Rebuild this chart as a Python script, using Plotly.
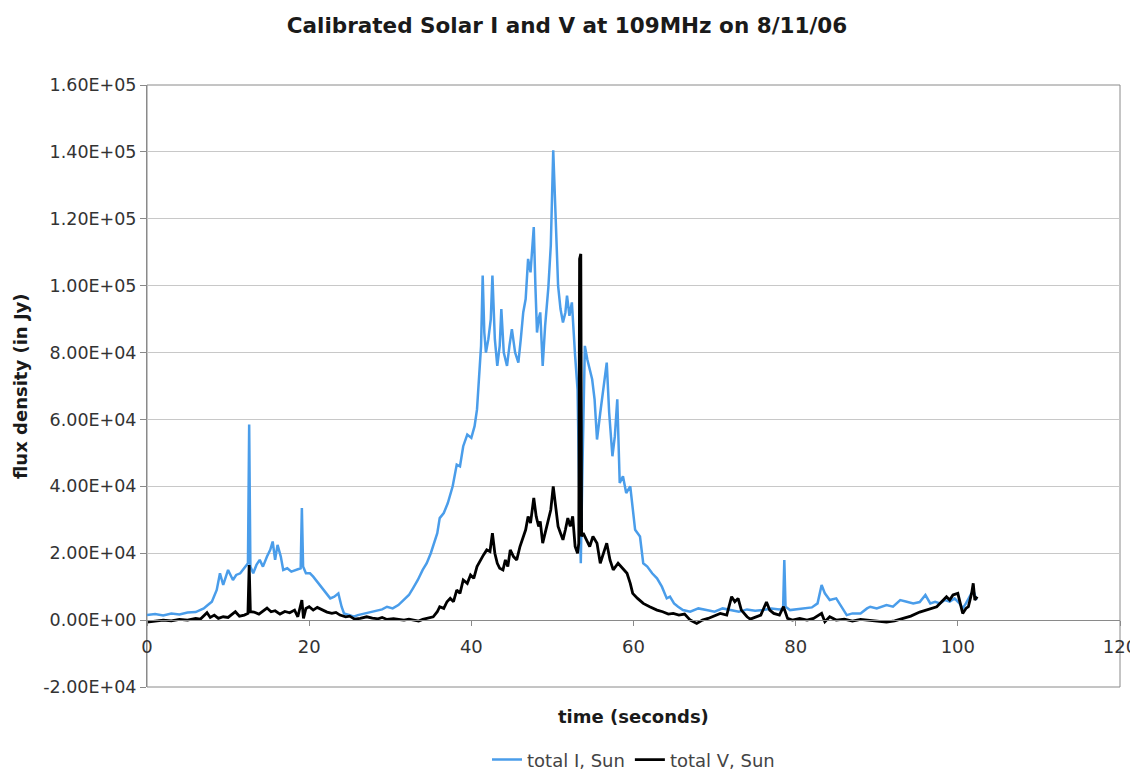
import plotly.graph_objects as go

# ---- data ----
t_I = [0.0, 1.0, 2.0, 3.0, 4.0, 5.0, 6.0, 7.0, 7.5, 8.0,
       8.6, 9.0, 9.4, 10.0, 10.6, 11.0, 11.5, 12.0, 12.45, 12.6,
       12.75, 13.1, 13.5, 13.9, 14.3, 14.8, 15.2, 15.5, 15.8, 16.1,
       16.5, 16.8, 17.3, 17.8, 18.5, 18.95, 19.1, 19.25, 19.6, 20.1,
       20.5, 21.0, 21.3, 21.8, 22.3, 22.6, 23.1, 23.6, 24.0, 24.3,
       25.0, 25.5, 26.0, 27.0, 28.0, 29.0, 29.6, 30.3, 31.0, 31.6,
       32.3, 32.8, 33.4, 34.0, 34.5, 35.0, 35.3, 35.8, 36.1, 36.6,
       37.1, 37.7, 38.2, 38.6, 39.0, 39.5, 40.0, 40.4, 40.7, 41.0,
       41.2, 41.4, 41.6, 41.8, 42.1, 42.4, 42.6, 42.9, 43.2, 43.5,
       43.7, 44.0, 44.4, 44.7, 45.0, 45.4, 45.8, 46.1, 46.4, 46.7,
       47.0, 47.3, 47.7, 47.9, 48.1, 48.3, 48.5, 48.8, 49.1, 49.5,
       49.8, 50.1, 50.4, 50.7, 51.0, 51.3, 51.6, 51.8, 52.1, 52.4,
       52.8, 53.1, 53.3, 53.5, 53.7, 54.0, 54.3, 54.6, 54.9, 55.2,
       55.5, 55.9, 56.3, 56.7, 57.0, 57.4, 57.7, 58.0, 58.3, 58.7,
       59.1, 59.6, 60.2, 60.8, 61.2, 61.7, 62.3, 62.9, 63.5, 64.1,
       64.5, 65.0, 65.5, 66.1, 67.0, 68.0, 69.0, 70.0, 71.0, 72.0,
       73.0, 74.0, 75.0, 76.0, 77.0, 78.0, 78.45, 78.6, 78.75, 79.3,
       80.0, 81.0, 82.0, 82.7, 83.2, 83.6, 84.2, 85.0, 85.5, 86.3,
       87.0, 88.0, 88.8, 89.2, 90.0, 91.2, 92.0, 92.9, 93.7, 94.5,
       95.3, 96.0, 96.6, 97.2, 97.8, 98.4, 99.0, 99.6, 100.2, 100.6,
       101.0, 101.4, 101.9, 102.3]

total_I = [1500, 1800, 1400, 2000, 1700, 2300, 2400, 3500, 4500, 5500,
           9000, 14000, 10500, 15000, 12000, 13500, 14000, 15500, 17000, 58500,
           16000, 14000, 16500, 18000, 16000, 19000, 21000, 23500, 18000, 22500,
           19000, 15000, 15500, 14500, 15000, 15500, 33500, 16000, 14000, 14000,
           13000, 11500, 10500, 9000, 7500, 6500, 7000, 8000, 4000, 2000,
           1500, 1000, 1500, 2000, 2500, 3200, 4000, 3500, 4500, 6000,
           7500, 9500, 12000, 15000, 17000, 20000, 22000, 26000, 30500, 32000,
           35000, 40000, 46500, 46000, 52000, 55500, 54500, 58000, 63000, 75000,
           82000, 103000, 86000, 80000, 84000, 90000, 103000, 84000, 76000, 82000,
           93000, 80000, 76000, 82000, 87000, 80000, 77000, 84000, 92000, 96000,
           108000, 104000, 117500, 100000, 86000, 90000, 92000, 76000, 88000, 99500,
           112000, 140500, 118000, 100000, 93000, 89000, 92000, 97000, 91000, 95000,
           79000, 69000, 40000, 17000, 45000, 82000, 78000, 75000, 72000, 66000,
           54000, 62000, 70000, 77000, 62000, 49000, 55000, 66000, 41000, 43000,
           38000, 40000, 27000, 25000, 17000, 16000, 14000, 12500, 10000, 6500,
           7000, 5000, 4000, 3000, 2500, 3500, 3000, 2500, 3500, 3000,
           2500, 3200, 2800, 3000, 3500, 3200, 3500, 18000, 4000, 3000,
           3200, 3500, 3800, 5000, 10500, 8000, 6000, 6500, 4500, 1500,
           2000, 2000, 3500, 4000, 3500, 4500, 4000, 6000, 5500, 5000,
           5400, 7500, 5000, 5500, 5000, 6000, 5500, 6500, 5000, 3500,
           5000, 7000, 9000, 6000]

t_V = [0.0, 1.0, 2.0, 3.0, 4.0, 5.0, 6.0, 6.6, 7.0, 7.4,
       7.8, 8.3, 8.8, 9.4, 10.0, 10.5, 10.9, 11.4, 12.0, 12.45,
       12.6, 12.75, 13.2, 13.8, 14.3, 14.8, 15.3, 15.8, 16.4, 17.0,
       17.6, 18.2, 18.6, 18.95, 19.1, 19.3, 19.6, 20.0, 20.5, 21.0,
       21.5, 22.2, 22.8, 23.3, 23.8, 24.5, 25.0, 25.6, 26.3, 27.1,
       27.8, 28.5, 29.0, 29.6, 30.4, 31.0, 31.7, 32.3, 32.8, 33.5,
       34.0, 34.6, 35.3, 35.8, 36.1, 36.6, 37.0, 37.4, 37.8, 38.2,
       38.6, 39.0, 39.5, 39.9, 40.3, 40.7, 41.1, 41.5, 41.9, 42.3,
       42.6, 42.9, 43.2, 43.5, 43.9, 44.2, 44.5, 44.8, 45.2, 45.6,
       46.0, 46.4, 46.7, 47.0, 47.3, 47.7, 48.0, 48.3, 48.5, 48.8,
       49.1, 49.5, 49.8, 50.1, 50.4, 50.7, 51.0, 51.3, 51.6, 51.9,
       52.2, 52.5, 52.8, 53.1, 53.25, 53.35, 53.5, 53.6, 53.8, 54.2,
       54.6, 55.0, 55.5, 55.9, 56.3, 56.7, 57.1, 57.5, 58.1, 58.6,
       59.2, 59.6, 59.9, 60.5, 61.2, 62.0, 62.9, 63.6, 64.3, 64.9,
       65.6, 66.3, 67.0, 67.8, 68.5, 69.2, 70.0, 70.7, 71.5, 72.1,
       72.5, 72.9, 73.3, 74.0, 74.4, 75.0, 75.7, 76.4, 76.8, 77.3,
       78.0, 78.5, 79.0, 79.6, 80.5, 81.4, 82.2, 83.2, 83.6, 84.2,
       85.0, 86.0, 87.0, 88.0, 89.0, 90.0, 91.2, 92.2, 93.2, 94.2,
       95.3, 96.3, 97.4, 98.0, 98.6, 99.0, 99.4, 100.0, 100.3, 100.6,
       101.0, 101.3, 101.7, 101.9, 102.1, 102.4]

total_V = [-600, -300, 0, -200, 200, 0, 500, 300, 1200, 2200,
           800, 1500, 500, 1000, 800, 1800, 2500, 1200, 1500, 2000,
           16500, 2500, 2400, 1800, 2800, 3600, 2500, 2800, 1800, 2600,
           2200, 3000, 1000, 4500, 6000, 500, 3500, 4000, 3000, 3800,
           3200, 2400, 2000, 2300, 1500, 1000, 1200, 300, 500, 1000,
           600, 400, 800, 200, 400, 300, 0, 300, 0, -300,
           200, 600, 1000, 2500, 4000, 3500, 5500, 6500, 5500, 9000,
           8000, 12000, 11000, 13500, 12500, 16000, 18000, 19500, 21000, 20500,
           26000, 20000, 17000, 15500, 15000, 18000, 16000, 21000, 19000, 18000,
           22000, 25000, 27000, 31000, 29000, 36500, 31000, 28000, 29500, 23000,
           26000, 30000, 33000, 40000, 33000, 28000, 26000, 24000, 27000, 30500,
           28000, 31000, 22000, 20000, 23000, 108000, 109500, 25000, 26000, 24000,
           22000, 25000, 23000, 17000, 20000, 23000, 18000, 15000, 17000, 15500,
           14000, 11000, 8000, 6500, 5000, 4000, 3000, 2500, 1800, 2000,
           1500, 1800, 0, -1000, 0, 500, 1200, 2000, 1500, 7000,
           5500, 6500, 3000, 1000, 300, 800, 1500, 5400, 3000, 2000,
           1500, 4000, 500, 0, 500, 0, 500, 2000, -500, 1000,
           0, 300, -300, 200, 0, -300, -600, -200, 600, 1200,
           2400, 3200, 4000, 5500, 7000, 6000, 7500, 8000, 5000, 2000,
           3500, 4000, 8000, 11000, 6000, 7000]

y_tick_vals = [-20000, 0, 20000, 40000, 60000, 80000, 100000, 120000, 140000, 160000]
y_tick_text = ["-2.00E+04", "0.00E+00", "2.00E+04", "4.00E+04", "6.00E+04",
               "8.00E+04", "1.00E+05", "1.20E+05", "1.40E+05", "1.60E+05"]
x_tick_vals = [0, 20, 40, 60, 80, 100, 120]

series_names = ["total I, Sun", "total V, Sun"]
series_colors = ["#4A9DEA", "#000000"]

FONT = "DejaVu Sans"

fig = go.Figure()
fig.add_trace(go.Scatter(x=t_I, y=total_I, mode="lines", name=series_names[0],
                         line=dict(color=series_colors[0], width=2.5)))
fig.add_trace(go.Scatter(x=t_V, y=total_V, mode="lines", name=series_names[1],
                         line=dict(color=series_colors[1], width=2.8)))

ymin, ymax = -20000, 160000
zero_pos = (0 - ymin) / (ymax - ymin)

# the page body adds an 8px offset, so the figure is sized/placed to compensate
W, H = 1130, 764
fig.update_layout(
    width=W, height=H,
    margin=dict(l=139, r=18, t=77, b=85, autoexpand=False),
    paper_bgcolor="white", plot_bgcolor="white",
    font=dict(family=FONT, color="#333333", size=17),
    title=dict(text="<b>Calibrated Solar I and V at 109MHz on 8/11/06</b>",
               x=(567 - 8) / W, xanchor="center", y=1 - 17 / H, yanchor="middle",
               font=dict(family=FONT, size=21.5, color="#1a1a1a")),
    showlegend=True,
    legend=dict(orientation="h", x=0.5, xanchor="center", y=-0.121, yanchor="middle",
                font=dict(family=FONT, size=18, color="#444444"),
                bgcolor="rgba(0,0,0,0)"),
    xaxis=dict(range=[0, 120], tickvals=x_tick_vals, showgrid=False,
               zeroline=False, showline=True, linecolor="#8a8a8a", linewidth=1,
               ticks="outside", ticklen=5, tickcolor="#8a8a8a",
               anchor="free", position=zero_pos, ticklabelstandoff=5,
               automargin=False,
               tickfont=dict(family=FONT, size=18, color="#333333")),
    yaxis=dict(range=[ymin, ymax], tickvals=y_tick_vals, ticktext=y_tick_text,
               showgrid=True, gridcolor="#c8c8c8", gridwidth=1, zeroline=False,
               showline=True, linecolor="#8a8a8a", linewidth=1,
               ticks="outside", ticklen=6, tickcolor="#8a8a8a",
               automargin=False,
               tickfont=dict(family=FONT, size=17.5, color="#333333")),
)

# plot-area border
fig.add_shape(type="rect", xref="paper", yref="paper", x0=0, x1=1, y0=0, y1=1,
              line=dict(color="#8a8a8a", width=1), layer="below")

# axis titles
fig.add_annotation(text="<b>time (seconds)</b>", xref="paper", yref="paper",
                   x=0.5, y=(687 - 716) / 602, xanchor="center", yanchor="middle",
                   showarrow=False, font=dict(family=FONT, size=18, color="#1a1a1a"))
fig.add_annotation(text="<b>flux density (in Jy)</b>", xref="paper", yref="paper",
                   x=(20 - 147) / 973, y=0.5, xanchor="center", yanchor="middle",
                   textangle=-90, showarrow=False,
                   font=dict(family=FONT, size=18, color="#1a1a1a"))

fig.write_html("out.html")
